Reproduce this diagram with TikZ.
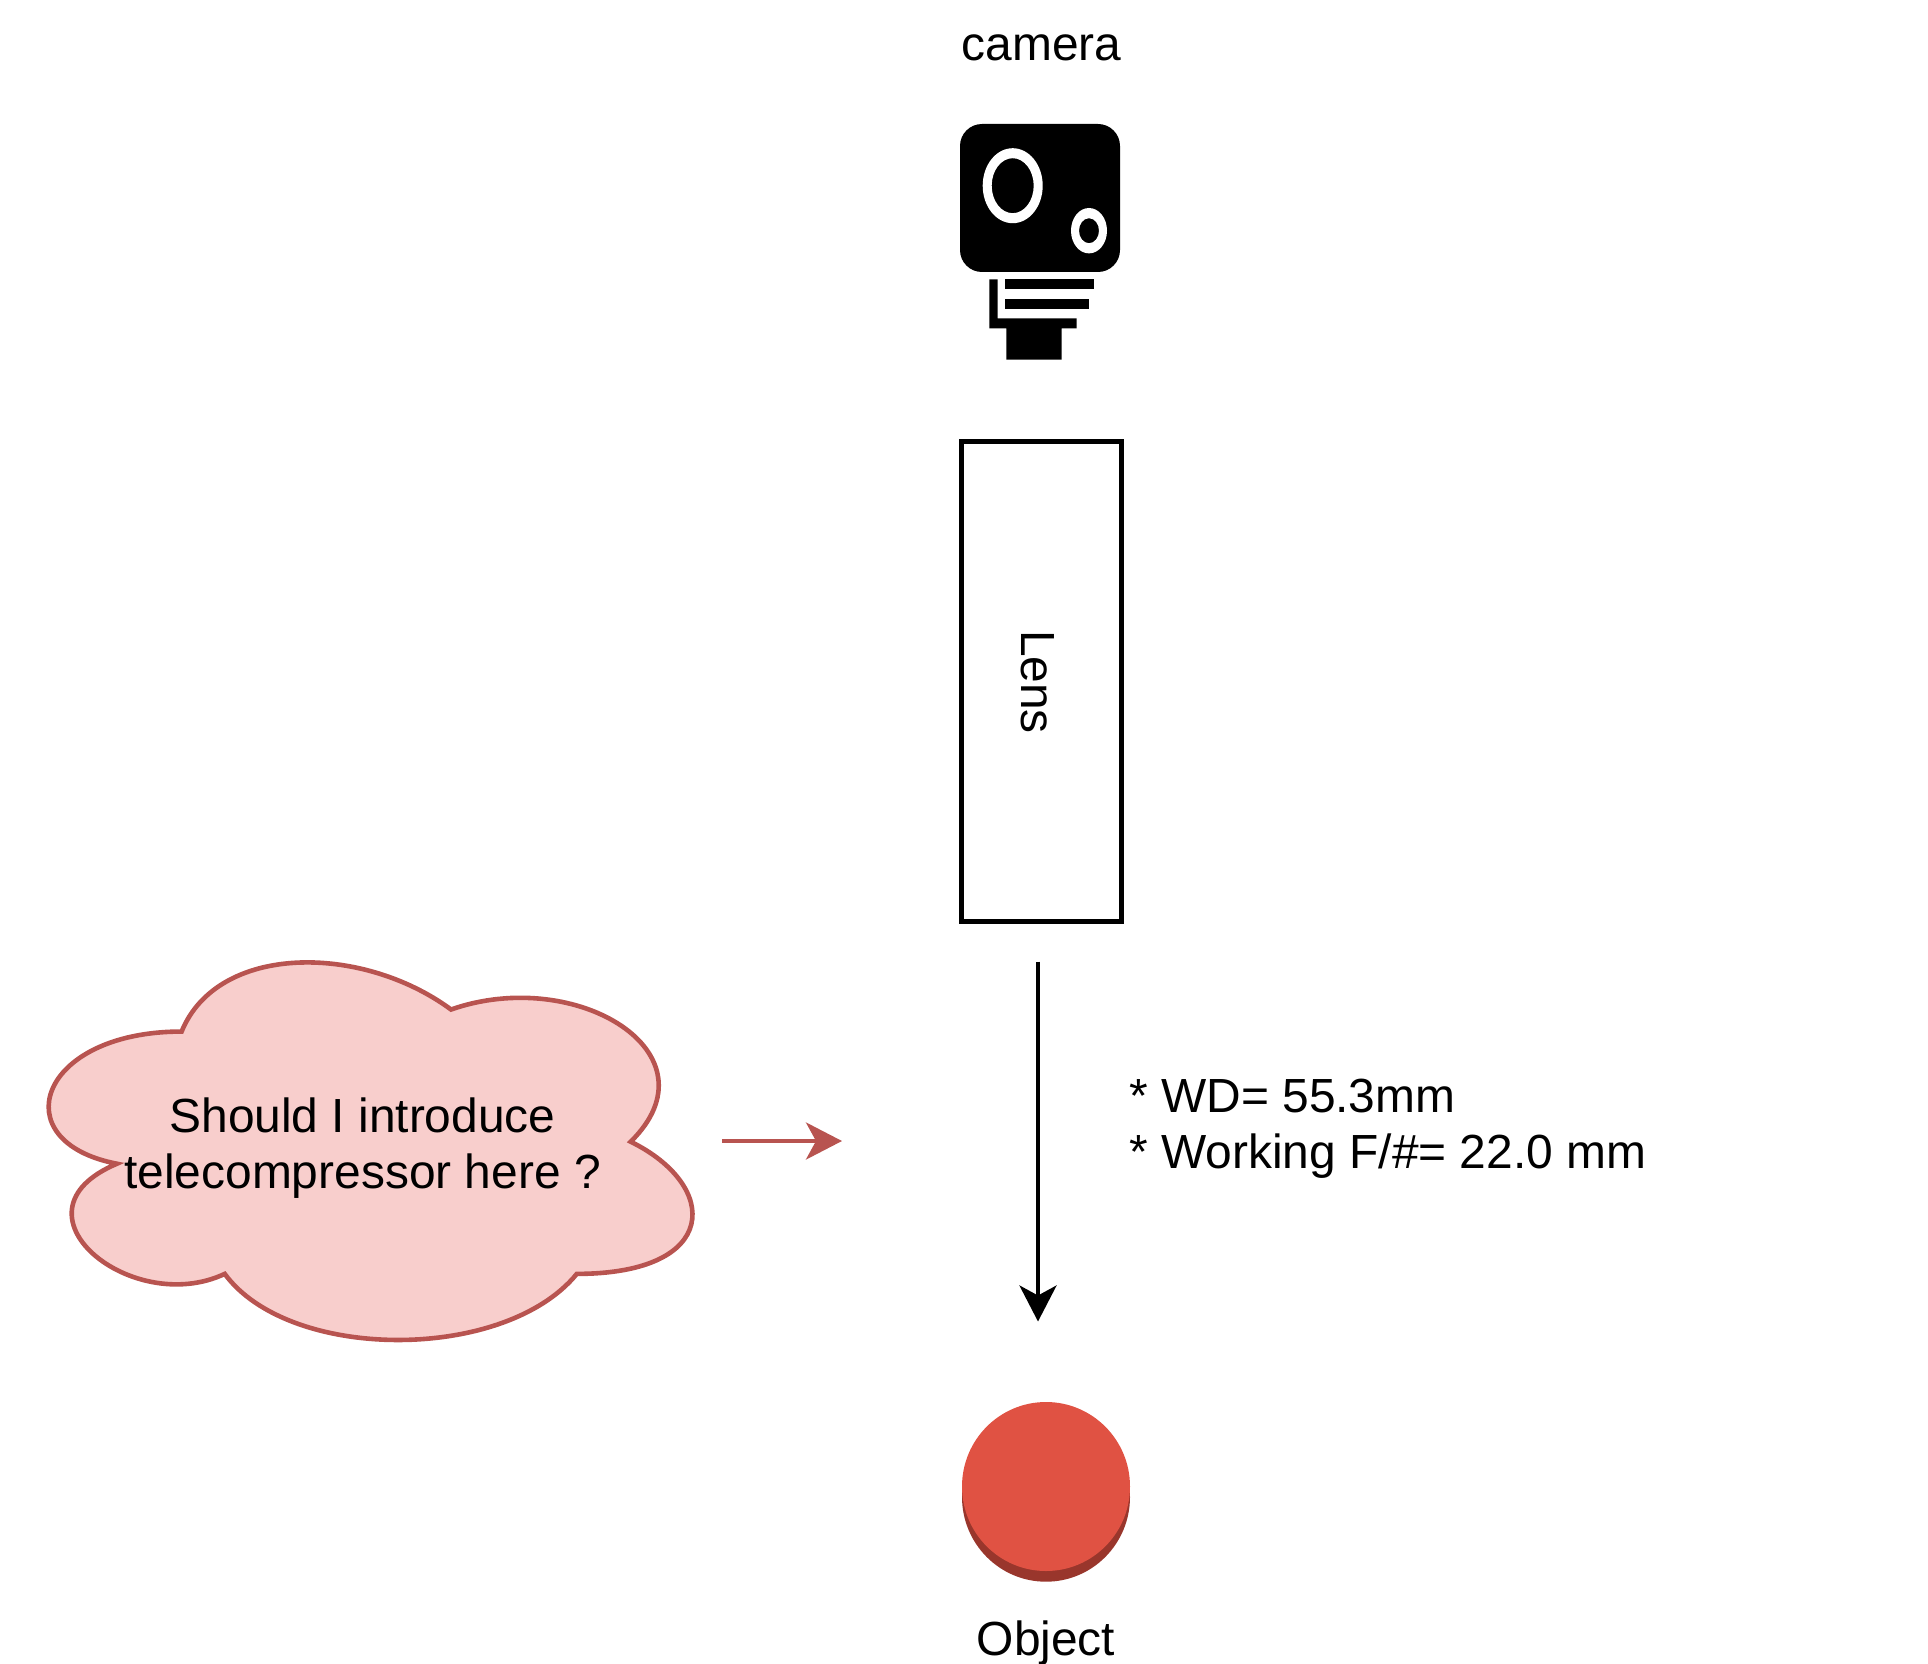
\documentclass[tikz,border=0pt]{standalone}
\usepackage{fontspec}
\setmainfont{Liberation Sans}
\usetikzlibrary{arrows.meta}
\definecolor{cloudfill}{HTML}{F8CECC}
\definecolor{cloudline}{HTML}{B85450}
\definecolor{objface}{HTML}{E05243}
\definecolor{objside}{HTML}{99362C}
\tikzset{
  label text/.style={font=\fontsize{23.95}{28}\selectfont,inner sep=0pt,text=black},
  two lines/.style={label text,text depth=0pt},
  flow/.style={line width=2pt,-{Stealth[length=18pt,width=18.5pt,inset=5pt]}},
  lens box/.style={draw=black,line width=2.2pt,fill=white,inner sep=0pt},
  cloud outline/.style={draw=cloudline,fill=cloudfill,line width=2.3pt},
}
\begin{document}
\begin{tikzpicture}[x=0.5pt,y=-0.5pt]
\useasboundingbox (0,0) rectangle (1928,1664);

% camera icon
\fill[black,rounded corners=11pt] (960,124) rectangle (1120,272);
\fill[white,even odd rule]
  (1012.7,185.7) ellipse [x radius=30,y radius=37.5]
  (1012.7,185.7) ellipse [x radius=21,y radius=27.5]
  (1089,230.7) ellipse [x radius=18,y radius=22.7]
  (1089,230.7) ellipse [x radius=10,y radius=12.5];
\fill[black] (989.3,279.3) -- (997.7,279.3) -- (997.7,318.3) -- (1076.7,318.3) -- (1076.7,328.3)
  -- (1061.7,328.3) -- (1061.7,359.7) -- (1006.3,359.7) -- (1006.3,328.3) -- (989.3,328.3) -- cycle;
\fill[black] (1005.3,279.3) rectangle (1093.7,289.3);
\fill[black] (1005.3,298.7) rectangle (1089,308.7);
\node[label text,anchor=base] (cameralabel) at (1041.5,60.5) {camera};

% lens
\node[lens box,minimum width=80pt,minimum height=240pt] (lens) at (1041.5,681.5) {};
\node[label text,rotate=-90] (lenslabel) at (1037.5,682) {Lens};

% working distance arrow
\coordinate (wdstart) at (1038,961.5);
\coordinate (wdend) at (1038,1321.5);
\draw[flow,black] (wdstart) -- (wdend);
\node[two lines,anchor=west,align=left] (wdlabel) at (1129,1123.5) {* WD= 55.3mm\\* Working F/\#= 22.0 mm};

% cloud
\begin{scope}[shift={(2,921.4)},xscale=718.5,yscale=440.6]
\draw[cloud outline] (0.25,0.25)
  .. controls (0.05,0.25) and (0,0.5) .. (0.16,0.55)
  .. controls (0,0.66) and (0.18,0.9) .. (0.31,0.8)
  .. controls (0.4,1) and (0.7,1) .. (0.8,0.8)
  .. controls (1,0.8) and (1,0.6) .. (0.875,0.5)
  .. controls (1,0.3) and (0.8,0.1) .. (0.625,0.2)
  .. controls (0.5,0.05) and (0.3,0.05) .. (0.25,0.25) -- cycle;
\end{scope}
\node[two lines,align=center] (cloudlabel) at (362.5,1143) {Should I introduce\\telecompressor here ?};

% red arrow
\coordinate (redstart) at (722,1141);
\coordinate (redend) at (842,1141);
\draw[flow,cloudline] (redstart) -- (redend);

% object
\fill[objside] (1046,1497) ellipse [x radius=84,y radius=84.7];
\fill[objface] (1046,1486.5) ellipse [x radius=84,y radius=84.5];
\node[label text,anchor=base] (objectlabel) at (1046,1655) {Object};
\end{tikzpicture}
\end{document}
